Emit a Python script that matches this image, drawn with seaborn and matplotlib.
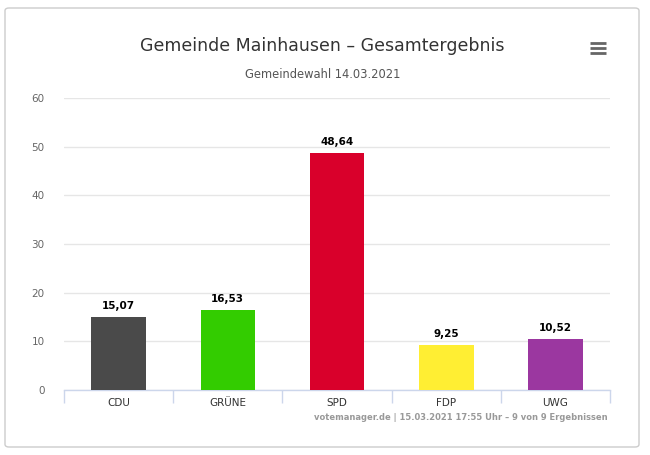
import matplotlib
matplotlib.use("Agg")
import matplotlib.pyplot as plt
import seaborn as sns
import pandas as pd
from matplotlib.patches import FancyBboxPatch

# data
parteien = ["CDU", "GRÜNE", "SPD", "FDP", "UWG"]
anteile = [15.07, 16.53, 48.64, 9.25, 10.52]
farben = ["#4a4a4a", "#33cc00", "#d9002b", "#ffee33", "#9b37a0"]
y_ticks = [0, 10, 20, 30, 40, 50, 60]

df = pd.DataFrame({"Partei": parteien, "Anteil": anteile})

sns.set_theme(style="white")
plt.rcParams['font.family'] = ['DejaVu Sans']

fig = plt.figure(figsize=(6.5, 4.55), dpi=100)
# rahmen
rahmen = FancyBboxPatch((5 / 650, 8 / 455), 634 / 650, 439 / 455,
                        boxstyle="round,pad=0,rounding_size=0.006",
                        transform=fig.transFigure, facecolor="none",
                        edgecolor="#cccccc", linewidth=1, zorder=-1)
fig.patches.append(rahmen)

ax = fig.add_axes([64 / 650, 65 / 455, 546 / 650, 292 / 455])
ax.set_facecolor("none")
sns.barplot(data=df, x="Partei", y="Anteil", hue="Partei", palette=farben,
            width=0.5, legend=False, ax=ax, saturation=1, zorder=3,
            linewidth=0)

ax.set_ylim(0, 60)
ax.set_xlim(-0.5, 4.5)
ax.set_yticks(y_ticks)
ax.set_yticklabels([str(t) for t in y_ticks], color="#666666", fontsize=7.5)
ax.yaxis.grid(True, color="#e6e6e6", linewidth=1, zorder=0)
ax.set_axisbelow(True)
ax.tick_params(axis="y", length=0, pad=14)
ax.set_xlabel("")
ax.set_ylabel("")
for s in ["top", "right", "left"]:
    ax.spines[s].set_visible(False)
ax.spines["bottom"].set_color("#ccd6eb")
ax.spines["bottom"].set_linewidth(1)

# x ticks between categories
ax.set_xticks(range(len(parteien)))
ax.set_xticklabels(parteien, color="#333333", fontsize=7.5)
ax.tick_params(axis="x", length=0, pad=6)
ax.set_xticks([i - 0.5 for i in range(len(parteien) + 1)], minor=True)
ax.tick_params(axis="x", which="minor", bottom=True, length=9,
               color="#ccd6eb", width=1)

for i, v in enumerate(anteile):
    ax.text(i, v + 1.2, f"{v:.2f}".replace(".", ","), ha="center", va="bottom",
            fontsize=7.5, fontweight="bold", color="black")

fig.text(322 / 650, 1 - 46 / 455, "Gemeinde Mainhausen – Gesamtergebnis",
         ha="center", va="center", fontsize=12.5, color="#333333")
fig.text(323 / 650, 1 - 75 / 455, "Gemeindewahl 14.03.2021",
         ha="center", va="center", fontsize=8.3, color="#555555")
fig.text(608 / 650, 1 - 418 / 455,
         "votemanager.de | 15.03.2021 17:55 Uhr – 9 von 9 Ergebnissen",
         ha="right", va="center", fontsize=6, fontweight="bold", color="#999999")

# menu icon
for yy in [43, 48, 53]:
    fig.add_artist(plt.Line2D([590 / 650, 606 / 650], [1 - yy / 455, 1 - yy / 455],
                              color="#666666", linewidth=2, solid_capstyle="butt",
                              transform=fig.transFigure))

fig.savefig("out.png", dpi=100)
